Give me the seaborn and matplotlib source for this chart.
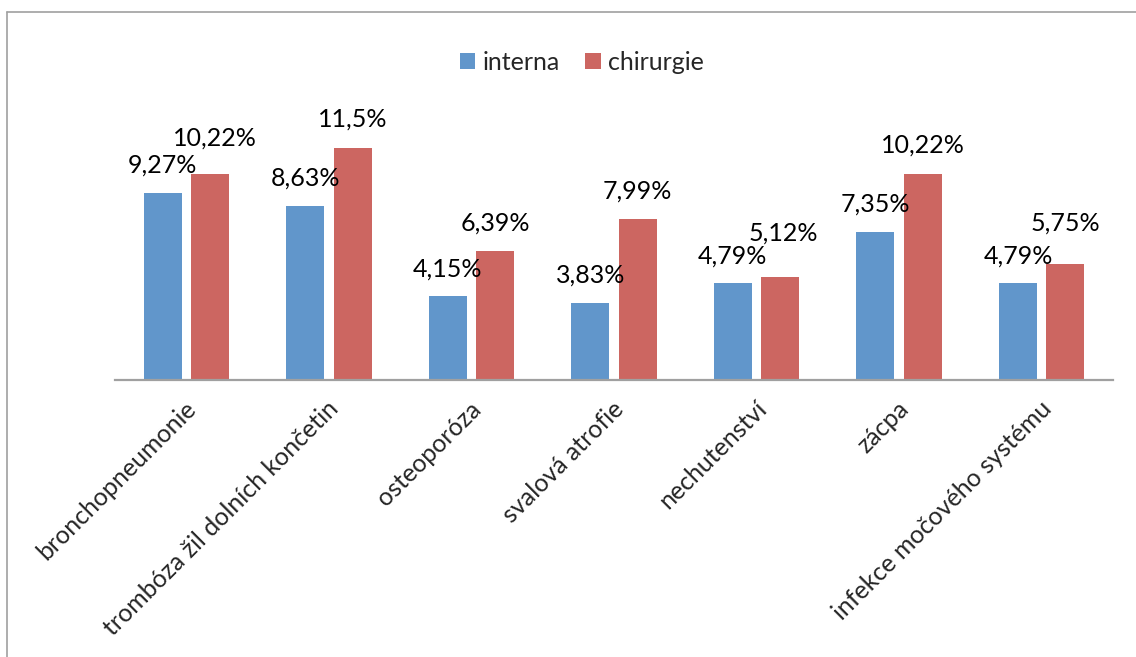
import matplotlib
matplotlib.use("Agg")
import matplotlib.pyplot as plt
from matplotlib.lines import Line2D
from matplotlib.transforms import ScaledTranslation
import pandas as pd
import seaborn as sns

# Categories and the share of each complication per department (%)
categories = [
    "bronchopneumonie",
    "trombóza žil dolních končetin",
    "osteoporóza",
    "svalová atrofie",
    "nechutenství",
    "zácpa",
    "infekce močového systému",
]
series_names = ["interna", "chirurgie"]
interna = [9.27, 8.63, 4.15, 3.83, 4.79, 7.35, 4.79]
chirurgie = [10.22, 11.5, 6.39, 7.99, 5.12, 10.22, 5.75]
value_text_interna = ["9,27%", "8,63%", "4,15%", "3,83%", "4,79%", "7,35%", "4,79%"]
value_text_chirurgie = ["10,22%", "11,5%", "6,39%", "7,99%", "5,12%", "10,22%", "5,75%"]

df = pd.DataFrame({
    "kategorie": categories * 2,
    "oddeleni": [series_names[0]] * len(categories) + [series_names[1]] * len(categories),
    "hodnota": interna + chirurgie,
})

BLUE = "#6196CB"
RED = "#CC6661"
W, H = 1136, 657

sns.set_style("white")
plt.rcParams["font.family"] = ["Lato", "DejaVu Sans"]
FS = 18

fig = plt.figure(figsize=(W / 100, H / 100), dpi=100)
ax_left, ax_right = 115 / W, 1113 / W
ax_bottom = (H - 380) / H
ax_top = (H - 97.2) / H
ax = fig.add_axes([ax_left, ax_bottom, ax_right - ax_left, ax_top - ax_bottom])

sns.barplot(
    data=df, x="kategorie", y="hodnota", hue="oddeleni",
    palette=[BLUE, RED], width=0.666, gap=0.2, ax=ax,
    edgecolor="none", saturation=1,
)

ax.set_ylim(0, 14)
ax.set_xlim(-0.5, len(categories) - 0.5)
ax.set_xlabel("")
ax.set_ylabel("")
ax.set_yticks([])
for side in ("left", "right", "top"):
    ax.spines[side].set_visible(False)
ax.spines["bottom"].set_color("#A0A0A0")
ax.spines["bottom"].set_linewidth(1.6)
ax.tick_params(axis="x", length=0, pad=8)
ax.set_xticks(range(len(categories)))
ax.set_xticklabels(categories, rotation=45, ha="right", va="center",
                   rotation_mode="anchor", fontsize=FS)
shift = ScaledTranslation(0.06, -0.14, fig.dpi_scale_trans)
for lbl in ax.get_xticklabels():
    lbl.set_transform(lbl.get_transform() + shift)

# Value labels above the bars (pixel offsets of each label's baseline)
offsets = [
    [(0, 20)] * 7,
    [(5, 28), (0, 21), (0, 20), (0, 20), (3, 36), (0, 21), (0, 33)],
]
texts = [value_text_interna, value_text_chirurgie]
for s, container in enumerate(ax.containers):
    for i, bar in enumerate(container):
        dx, dy = offsets[s][i]
        ax.annotate(
            texts[s][i],
            (bar.get_x() + bar.get_width() / 2, bar.get_height()),
            xytext=(dx, dy), textcoords="offset pixels",
            ha="center", va="baseline", fontsize=FS, color="black",
        )

handles, labels = ax.get_legend_handles_labels()
ax.get_legend().remove()
fig.legend(
    handles, labels, loc="center", bbox_to_anchor=(582 / W, 1 - 62 / H),
    ncol=2, frameon=False, fontsize=FS, handlelength=0.62, handleheight=0.62,
    handletextpad=0.3, columnspacing=1.0,
)

# Chart-area frame
fx, fy = 7 / W, 1 - 12 / H
fig.add_artist(Line2D([fx, fx], [fy, 0], transform=fig.transFigure,
                      color="#A0A0A0", lw=1.2))
fig.add_artist(Line2D([fx, 1], [fy, fy], transform=fig.transFigure,
                      color="#A0A0A0", lw=1.2))

fig.savefig("out.png", dpi=100)
